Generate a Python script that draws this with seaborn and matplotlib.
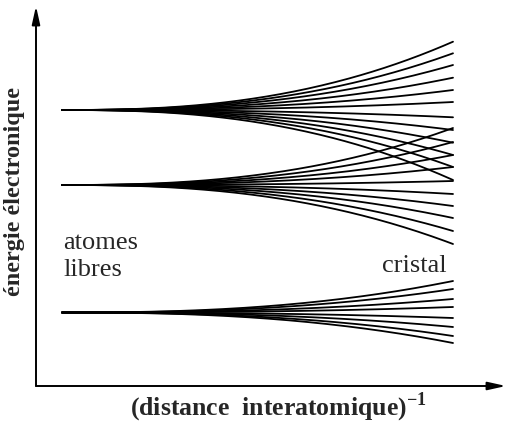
import numpy as np
import pandas as pd
import matplotlib
matplotlib.use("Agg")
import matplotlib.pyplot as plt
import seaborn as sns

# Energy levels of the free atoms (arbitrary units)
level_energies = [27.6, 20.1, 7.35]

# Energies reached by each state of the band on the crystal side
band_top = [34.43, 33.27, 32.10, 30.83, 29.60, 28.40, 26.87, 25.60, 24.33, 23.10, 21.90, 20.60]
band_middle = [25.80, 24.40, 23.10, 21.90, 20.50, 19.20, 18.00, 16.80, 15.50, 14.20]
band_bottom = [10.50, 9.70, 8.70, 7.90, 6.80, 5.90, 5.00, 4.30]

label_free = ["atomes", "libres"]
label_crystal = "cristal"
xlabel = "(distance  interatomique)"
ylabel = "énergie électronique"

# Build long-form table: each state splits from its atomic level as atoms get closer
t = np.linspace(0.0, 1.0, 200)
shape = t ** 2.5
rows = []
uid = 0
for e0, ends in zip(level_energies, [band_top, band_middle, band_bottom]):
    for e1 in ends:
        for ti, si in zip(t, shape):
            rows.append({"x": ti, "E": e0 + (e1 - e0) * si, "state": uid})
        uid += 1
df = pd.DataFrame(rows)

sns.set_theme(style="white")
plt.rcParams["font.family"] = ["Liberation Serif", "DejaVu Serif"]
plt.rcParams["mathtext.fontset"] = "custom"
plt.rcParams["mathtext.rm"] = "Liberation Serif:bold"
plt.rcParams["mathtext.bf"] = "Liberation Serif:bold"

W, H = 507, 422
fig = plt.figure(figsize=(W / 100, H / 100), dpi=100)
ax_left, ax_right, ax_top, ax_bottom = 36, 506, 6, 386
ax = fig.add_axes([ax_left / W, 1 - ax_bottom / H, (ax_right - ax_left) / W, (ax_bottom - ax_top) / H])

sns.lineplot(data=df, x="x", y="E", units="state", estimator=None, sort=True,
             color="black", lw=1.3, legend=False, ax=ax)

x0_px, x1_px = 62, 453
span = x1_px - x0_px
ax.set_xlim(-(x0_px - ax_left) / span, (ax_right - x0_px) / span)
ax.set_ylim(0, (ax_bottom - ax_top) / 10)
ax.set_xticks([])
ax.set_yticks([])
ax.set_xlabel("")
ax.set_ylabel("")
for s in ax.spines.values():
    s.set_visible(False)
ax.patch.set_alpha(0)

# Axes drawn as arrows
arrow = dict(arrowstyle="-|>,head_length=0.9,head_width=0.2", color="black",
             lw=1.4, shrinkA=0, shrinkB=0, mutation_scale=12)
ax.annotate("", xy=(0, 1), xytext=(0, 0), xycoords="axes fraction", arrowprops=arrow)
ax.annotate("", xy=(1, 0), xytext=(0, 0), xycoords="axes fraction", arrowprops=arrow)

def px_to_data(px, py):
    return (px - x0_px) / span, (ax_bottom - py) / 10

fs_note = 19
for word, base in zip(label_free, [249, 276]):
    x, y = px_to_data(63, base)
    ax.text(x, y, word, ha="left", va="baseline", fontsize=fs_note)
x, y = px_to_data(447, 272)
ax.text(x, y, label_crystal, ha="right", va="baseline", fontsize=fs_note)

fs = 17.5
fig.text(15 / W, 1 - 192 / H, ylabel, rotation=90, ha="center", va="center",
         fontsize=fs, fontweight="bold")
fig.text(278 / W, 1 - 415 / H, xlabel + r"$^{-1}$", ha="center", va="baseline",
         fontsize=18.5, fontweight="bold")

fig.savefig("out.png", dpi=100, facecolor="white")
